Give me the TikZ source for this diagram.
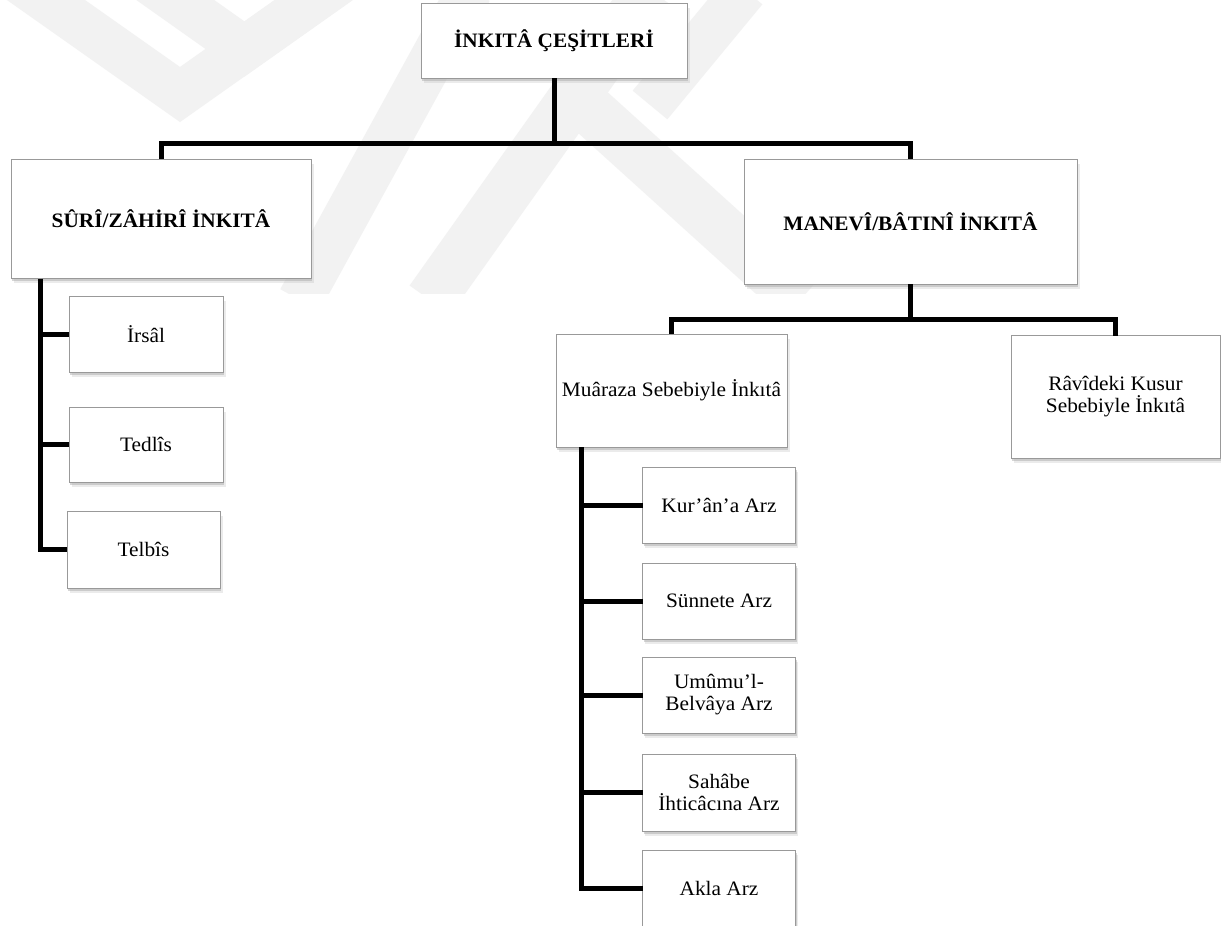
\documentclass[tikz,border=0pt]{standalone}
\usepackage{fontspec}
\setmainfont{Liberation Serif}[FakeStretch=1.04]
\usetikzlibrary{shadows}
\definecolor{wm}{gray}{0.95}
\definecolor{bord}{gray}{0.6}
\tikzset{
  box/.style={draw=bord, line width=1pt, fill=white, inner sep=0pt, outer sep=0pt,
    align=center, font=\fontsize{20.5}{22}\selectfont,
    drop shadow={shadow xshift=2.5pt, shadow yshift=-4.5pt, fill=black!30, opacity=0.25},
    drop shadow={shadow xshift=1.2pt, shadow yshift=-2.5pt, fill=black!35, opacity=0.45}},
  bbox/.style={box, font=\fontsize{20.5}{22}\selectfont\bfseries},
  conn/.style={line width=5pt, line join=miter},
  wmk/.style={draw=wm, line width=45pt, line join=miter},
}
\begin{document}
\begin{tikzpicture}[x=1pt, y=-1pt]
\useasboundingbox (0,0) rectangle (1221,926);
\fill[white] (0,0) rectangle (1221,926);
% watermark
\begin{scope}
  \clip (0,0) rectangle (830,293);
  \draw[wmk] (17.6,-20) -- (180,94.5) -- (342,-20);
  \draw[wmk] (147,-20) -- (244.5,49) -- (342,-20);
  \draw[wmk] (300,300) -- (470,-10);
  \draw[wmk, line width=50pt] (430,300) -- (650,-10);
  \draw[wmk, line width=50pt] (590,110) -- (800,300);
  \draw[wmk] (745,-10) -- (650,105);
\end{scope}
% boxes
\node[bbox, minimum width=266pt, minimum height=75pt] (top) at (554,40.5) {İNKITÂ ÇEŞİTLERİ};
\node[bbox, minimum width=300pt, minimum height=119pt] (suri) at (161,218.5) {SÛRÎ/ZÂHİRÎ İNKITÂ};
\node[bbox, minimum width=333pt, minimum height=125pt] (manevi) at (910.5,221.5) {MANEVÎ/BÂTINÎ İNKITÂ};
\node[box, minimum width=231pt, minimum height=113pt] (muaraza) at (671.5,390.5) {Muâraza Sebebiyle İnkıtâ};
\node[box, minimum width=209pt, minimum height=123pt] (ravi) at (1115.5,397) {Râvîdeki Kusur\\Sebebiyle İnkıtâ};
\node[box, minimum width=154pt, minimum height=76pt] (irsal) at (146,334) {İrsâl};
\node[box, minimum width=154pt, minimum height=75pt] (tedlis) at (146,444.5) {Tedlîs};
\node[box, minimum width=153pt, minimum height=77pt] (telbis) at (143.5,549.5) {Telbîs};
\node[box, minimum width=153pt, minimum height=76pt] (kuran) at (719,505) {Kur’ân’a Arz};
\node[box, minimum width=153pt, minimum height=76pt] (sunnet) at (719,601) {Sünnete Arz};
\node[box, minimum width=153pt, minimum height=76pt] (umumu) at (719,695) {Umûmu’l-\\Belvâya Arz};
\node[box, minimum width=153pt, minimum height=77pt] (sahabe) at (719,792.5) {Sahâbe\\İhticâcına Arz};
\node[box, minimum width=153pt, minimum height=77pt] (akla) at (719,888.5) {Akla Arz};
% connectors
\coordinate (j1) at (554,143);
\coordinate (j2) at (910.5,319);
\coordinate (l0) at (40,278.5);
\coordinate (r0) at (581,447);
\draw[conn] (top.south) -- (j1);
\draw[conn] (suri.north) |- (j1) -| (manevi.north);
\draw[conn] (manevi.south) -- (j2);
\draw[conn] (muaraza.north) |- (j2) -| (ravi.north);
\draw[conn] (l0) |- (telbis.west);
\draw[conn] (l0 |- irsal.west) -- (irsal.west);
\draw[conn] (l0 |- tedlis.west) -- (tedlis.west);
\draw[conn] (r0) |- (akla.west);
\draw[conn] (r0 |- kuran.west) -- (kuran.west);
\draw[conn] (r0 |- sunnet.west) -- (sunnet.west);
\draw[conn] (r0 |- umumu.west) -- (umumu.west);
\draw[conn] (r0 |- sahabe.west) -- (sahabe.west);
\end{tikzpicture}
\end{document}
